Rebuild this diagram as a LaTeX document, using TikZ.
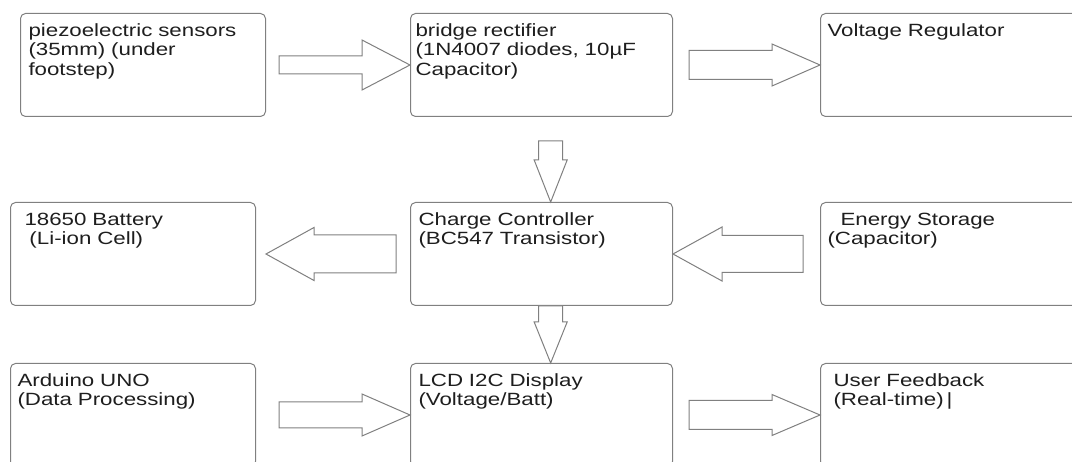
\documentclass[tikz,border=0pt]{standalone}
\usepackage{fontspec}
\setmainfont{Liberation Sans}[FakeStretch=1.26]
\usetikzlibrary{calc}

\definecolor{linegray}{HTML}{808080}
\definecolor{inkgray}{HTML}{1E1E1E}

\tikzset{
  box/.style={draw=linegray, line width=1pt, rounded corners=5pt, align=left,
    anchor=north west, inner ysep=10pt, text height=13pt, text depth=70pt, text=inkgray},
  flowline/.style={draw=linegray, line width=1pt, fill=white, line join=miter},
  flowbody/.store in=\flowbody, flowhead/.store in=\flowhead, flowlen/.store in=\flowlen,
  flowbody=9pt, flowhead=25pt, flowlen=48pt,
}

% block arrow: [sizes] {from}{tail gap}{to}{tip gap}
\newcommand{\flow}[5][]{%
  \begin{scope}[#1]
    \coordinate (ft) at ($(#2)!#3!(#4)$);
    \coordinate (tt) at ($(#4)!#5!(#2)$);
    \coordinate (hb) at ($(tt)!\flowlen!(ft)$);
    \draw[flowline] ($(ft)!\flowbody!90:(tt)$) -- ($(hb)!\flowbody!90:(tt)$)
      -- ($(hb)!\flowhead!90:(tt)$) -- (tt) -- ($(hb)!\flowhead!-90:(tt)$)
      -- ($(hb)!\flowbody!-90:(tt)$) -- ($(ft)!\flowbody!-90:(tt)$) -- cycle;
  \end{scope}}

\begin{document}
\begin{tikzpicture}[x=1pt, y=-1pt, font=\fontsize{17.7pt}{19.5pt}\selectfont]
\useasboundingbox[fill=white] (0,0) rectangle (1072,462);
\clip (0,0) rectangle (1072,462);

% top row
\node[box, text width=229pt, inner xsep=8pt] (piezo) at (20,13)
  {piezoelectric sensors\\(35mm) (under\\footstep)};
\node[box, text width=252pt, inner xsep=5pt] (bridge) at (410,13)
  {bridge rectifier\\(1N4007 diodes, 10µF\\Capacitor)};
\node[box, text width=248pt, inner xsep=7pt] (volt) at (820,13)
  {Voltage Regulator};

% middle row
\node[box, text width=217pt, inner xsep=14pt] (battery) at (10,202)
  {18650 Battery\\\hspace*{5pt}(Li-ion Cell)};
\node[box, text width=246pt, inner xsep=8pt] (charge) at (410,202)
  {Charge Controller\\(BC547 Transistor)};
\node[box, text width=248pt, inner xsep=7pt] (storage) at (820,202)
  {\hspace*{13pt}Energy Storage\\(Capacitor)};

% bottom row
\node[box, text width=231pt, inner xsep=7pt] (arduino) at (10,363)
  {Arduino UNO\\(Data Processing)};
\node[box, text width=246pt, inner xsep=8pt] (lcd) at (410,363)
  {LCD I2C Display\\(Voltage/Batt)};
\node[box, text width=236pt, inner xsep=13pt] (feedback) at (820,363)
  {User Feedback\\(Real-time)\,|};

% arrows
\flow[flowbody=9pt, flowhead=25pt, flowlen=48pt]{piezo.east}{13pt}{bridge.west}{0pt}
\flow[flowbody=14.5pt, flowhead=21pt, flowlen=48pt]{bridge.east}{16pt}{volt.west}{0pt}
\flow[flowbody=12pt, flowhead=16.5pt, flowlen=42pt]{bridge.-80}{24pt}{charge.80}{0pt}
\flow[flowbody=12pt, flowhead=16.5pt, flowlen=41pt]{charge.-80}{0pt}{lcd.80}{0pt}
\flow[flowbody=19pt, flowhead=26.5pt, flowlen=48pt]{charge.west}{14pt}{battery.east}{10pt}
\flow[flowbody=18.5pt, flowhead=27pt, flowlen=49pt]{storage.west}{17pt}{charge.east}{0pt}
\flow[flowbody=13pt, flowhead=21pt, flowlen=48pt]{arduino.east}{23pt}{lcd.west}{0pt}
\flow[flowbody=14.5pt, flowhead=20.5pt, flowlen=48pt]{lcd.east}{16pt}{feedback.west}{0pt}
\end{tikzpicture}
\end{document}
